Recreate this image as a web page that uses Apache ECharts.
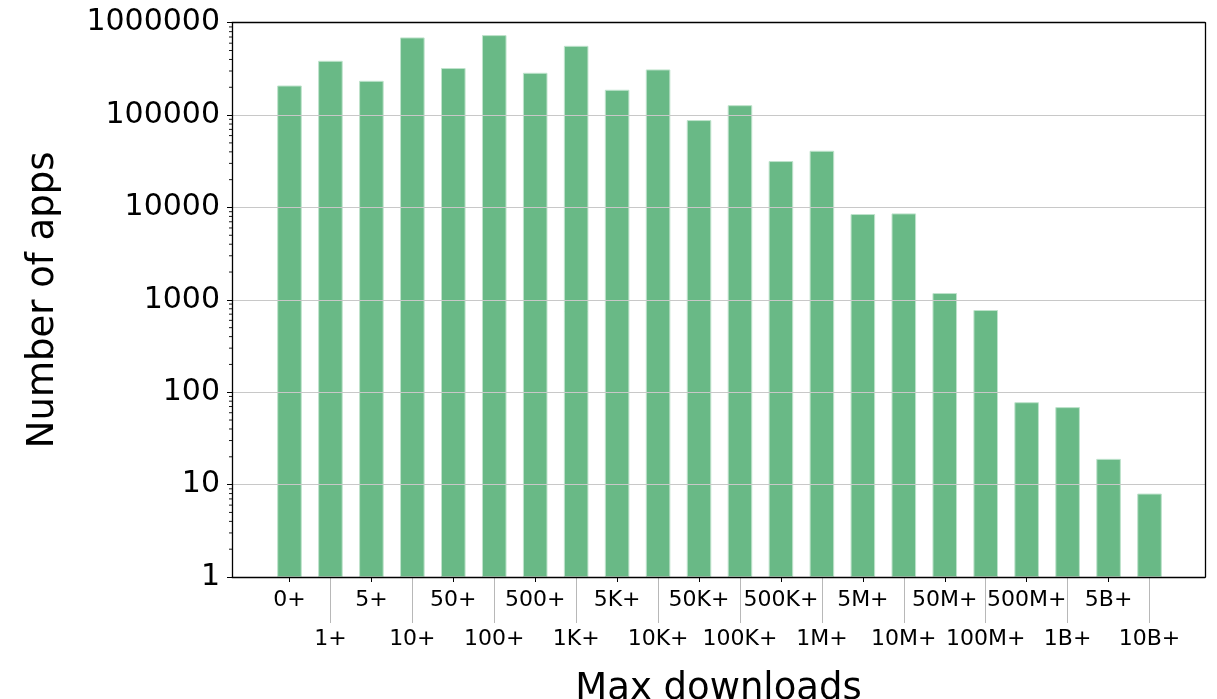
<!DOCTYPE html>
<html>
<head>
<meta charset="utf-8">
<script src="https://cdn.jsdelivr.net/npm/echarts@6/dist/echarts.min.js"></script>
<style>
html,body{margin:0;padding:0;background:#fff;}
#chart{width:1217px;height:699px;}
</style>
</head>
<body>
<div id="chart"></div>
<script>
const categories = ['0+','1+','5+','10+','50+','100+','500+','1K+','5K+','10K+','50K+','100K+','500K+','1M+','5M+','10M+','50M+','100M+','500M+','1B+','5B+','10B+'];
const appCounts = [209000, 387000, 235000, 693000, 323000, 734000, 287000, 562000, 188000, 312000, 88300, 128000, 31800, 41100, 8490, 8630, 1185, 776, 78, 69, 19, 8];
const yMin = 1;
const yMax = 1000000;
const decades = [1, 10, 100, 1000, 10000, 100000];
const minorMantissas = [2, 3, 4, 5, 6, 7, 8, 9];
const xTitle = 'Max downloads';
const yTitle = 'Number of apps';

const minorTickValues = [];
decades.forEach(d => minorMantissas.forEach(m => minorTickValues.push([0, d * m])));

const FONT = 'DejaVu Sans';
const frameLine = { show: true, onZero: false, lineStyle: { color: '#000', width: 1.3 } };
const chart = echarts.init(document.getElementById('chart'));
chart.setOption({
  animation: false,
  textStyle: { fontFamily: FONT },
  grid: [
    { left: 232, right: 12, top: 22.7, bottom: 122, containLabel: false, outerBoundsMode: 'none' },
    { left: 269, right: 47, top: 22.7, bottom: 122, containLabel: false, outerBoundsMode: 'none' }
  ],
  xAxis: [
    {
      gridIndex: 0, type: 'value', min: 0, max: 1, position: 'bottom', z: 5,
      axisLine: frameLine, axisTick: { show: false }, axisLabel: { show: false }, splitLine: { show: false },
      name: xTitle, nameLocation: 'middle', nameGap: 94,
      nameTextStyle: { fontSize: 37, color: '#000', fontFamily: FONT }
    },
    {
      gridIndex: 1, type: 'category', data: categories, position: 'bottom',
      axisLine: { show: false },
      axisTick: { show: true, alignWithLabel: true, length: 5, lineStyle: { color: '#000', width: 1 }, interval: (i) => i % 2 === 0 },
      axisLabel: { interval: (i) => i % 2 === 0, fontSize: 22, color: '#000', margin: 12, fontFamily: FONT },
      splitLine: { show: false }
    },
    {
      gridIndex: 1, type: 'category', data: categories, position: 'bottom',
      axisLine: { show: false },
      axisTick: { show: true, alignWithLabel: true, length: 46, lineStyle: { color: '#b8b8b8', width: 1 }, interval: (i) => i % 2 === 1 },
      axisLabel: { interval: (i) => i % 2 === 1, fontSize: 22, color: '#000', margin: 51, fontFamily: FONT },
      splitLine: { show: false }
    },
    {
      gridIndex: 0, type: 'value', min: 0, max: 1, position: 'top', z: 5,
      axisLine: frameLine, axisTick: { show: false }, axisLabel: { show: false }, splitLine: { show: false }
    }
  ],
  yAxis: [
    {
      gridIndex: 0, type: 'log', logBase: 10, min: yMin, max: yMax, z: 5,
      axisLine: frameLine,
      axisTick: { show: true, length: 5, lineStyle: { color: '#000' } },
      minorTick: { show: false },
      axisLabel: { fontSize: 30, color: '#000', margin: 12, fontFamily: FONT, formatter: (v) => String(Math.round(v)) },
      splitLine: { show: true, lineStyle: { color: '#c8c8c8', width: 1.2 } },
      name: yTitle, nameLocation: 'middle', nameGap: 170,
      nameTextStyle: { fontSize: 37, color: '#000', fontFamily: FONT }
    },
    {
      gridIndex: 1, type: 'log', logBase: 10, min: yMin, max: yMax, show: false,
      splitLine: { show: false }
    },
    {
      gridIndex: 0, type: 'value', min: 0, max: 1, position: 'right', z: 5,
      axisLine: frameLine, axisTick: { show: false }, axisLabel: { show: false }, splitLine: { show: false }
    }
  ],
  series: [
    {
      type: 'bar',
      xAxisIndex: 1, yAxisIndex: 1,
      data: appCounts,
      barWidth: '60%',
      itemStyle: { color: '#69b986', borderColor: '#bfe3cc', borderWidth: 1 }
    },
    {
      type: 'custom',
      xAxisIndex: 0, yAxisIndex: 0,
      clip: false, silent: true, z: 6,
      data: minorTickValues,
      renderItem: function (params, api) {
        const p = api.coord([api.value(0), api.value(1)]);
        return {
          type: 'line',
          shape: { x1: p[0] - 3, y1: p[1], x2: p[0], y2: p[1] },
          style: { stroke: '#000', lineWidth: 0.9 }
        };
      }
    }
  ]
});
</script>
</body>
</html>
